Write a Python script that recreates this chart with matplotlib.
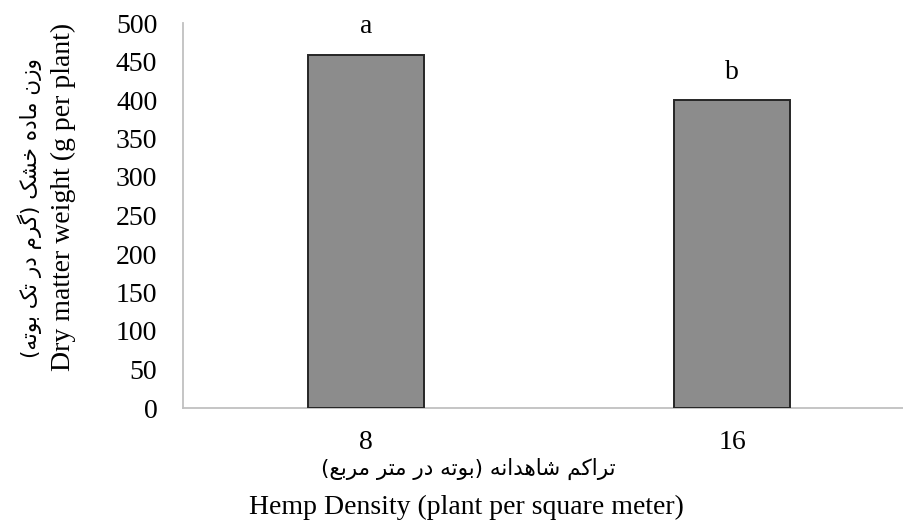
import matplotlib
matplotlib.use("Agg")
import matplotlib.pyplot as plt

# ---------------- data ----------------
categories = ["8", "16"]
dry_weight = [459, 400]
letters = ["a", "b"]
y_ticks = [0, 50, 100, 150, 200, 250, 300, 350, 400, 450, 500]

x_title_en = "Hemp Density (plant per square meter)"
x_title_fa = "تراکم شاهدانه (بوته در متر مربع)"
y_title_en = "Dry matter weight (g per plant)"
y_title_fa = "وزن ماده خشک (گرم در تک بوته)"

# ------------- simple Persian shaping (presentation forms, visual order) -------------
FORMS = {
    'ا': ('\uFE8D', '\uFE8E', None, None),
    'ب': ('\uFE8F', '\uFE90', '\uFE91', '\uFE92'),
    'ت': ('\uFE95', '\uFE96', '\uFE97', '\uFE98'),
    'خ': ('\uFEA5', '\uFEA6', '\uFEA7', '\uFEA8'),
    'د': ('\uFEA9', '\uFEAA', None, None),
    'ر': ('\uFEAD', '\uFEAE', None, None),
    'ز': ('\uFEAF', '\uFEB0', None, None),
    'ش': ('\uFEB5', '\uFEB6', '\uFEB7', '\uFEB8'),
    'ع': ('\uFEC9', '\uFECA', '\uFECB', '\uFECC'),
    'م': ('\uFEE1', '\uFEE2', '\uFEE3', '\uFEE4'),
    'ن': ('\uFEE5', '\uFEE6', '\uFEE7', '\uFEE8'),
    'ه': ('\uFEE9', '\uFEEA', '\uFEEB', '\uFEEC'),
    'و': ('\uFEED', '\uFEEE', None, None),
    'ک': ('\uFB8E', '\uFB8F', '\uFB90', '\uFB91'),
    'گ': ('\uFB92', '\uFB93', '\uFB94', '\uFB95'),
}


def shape_rtl(text):
    out = []
    n = len(text)
    for i, ch in enumerate(text):
        if ch not in FORMS:
            out.append(ch)
            continue
        f = FORMS[ch]
        prev = text[i - 1] if i > 0 else None
        nxt = text[i + 1] if i + 1 < n else None
        jp = prev in FORMS and FORMS[prev][2] is not None
        jn = nxt in FORMS and f[2] is not None
        if jp and jn:
            out.append(f[3])
        elif jp:
            out.append(f[1])
        elif jn:
            out.append(f[2])
        else:
            out.append(f[0])
    mirror = {'(': ')', ')': '('}
    return ''.join(mirror.get(c, c) for c in reversed(out))


W, H = 904, 529
fig = plt.figure(figsize=(W / 100, H / 100), dpi=100)
fig.patch.set_facecolor("white")

serif = "Liberation Serif"
fs = 20
fa_fs = 15.5

ax_left, ax_right = 183, 915
ax_bottom, ax_top = 408, 23
ax = fig.add_axes([ax_left / W, (H - ax_bottom) / H,
                   (ax_right - ax_left) / W, (ax_bottom - ax_top) / H])

xpos = list(range(len(categories)))
bars = ax.bar(xpos, dry_weight, width=0.317, color="#8c8c8c",
              edgecolor="#262626", linewidth=1.4, zorder=3)

for x, v, l in zip(xpos, dry_weight, letters):
    ax.annotate(l, (x, v), xytext=(0, 11), textcoords="offset points",
                ha="center", va="bottom", fontsize=fs, family=serif)

ax.set_xlim(-0.5, 1.5)
ax.set_ylim(0, 500)
ax.set_yticks(y_ticks)
ax.set_yticklabels([str(t) for t in y_ticks], family=serif, fontsize=fs)
ax.set_xticks(xpos)
ax.set_xticklabels(categories, family=serif, fontsize=fs)
ax.tick_params(axis="both", length=0)
ax.tick_params(axis="y", pad=18.5)
ax.tick_params(axis="x", pad=16)

for s in ["top", "right"]:
    ax.spines[s].set_visible(False)
ax.spines["left"].set_color("#c0c0c0")
ax.spines["bottom"].set_color("#c0c0c0")
ax.spines["left"].set_linewidth(1.3)
ax.spines["bottom"].set_linewidth(1.3)

# axis titles
fig.text(468 / W, 1 - 469 / H, shape_rtl(x_title_fa), ha="center", va="center",
         fontsize=fa_fs, family="DejaVu Sans")
fig.text(466 / W, 1 - 507 / H, x_title_en, ha="center", va="center",
         fontsize=fs, family=serif)
fig.text(30 / W, 1 - 208 / H, shape_rtl(y_title_fa), ha="center", va="center",
         rotation=90, fontsize=fa_fs, family="DejaVu Sans")
fig.text(63 / W, 1 - 197 / H, y_title_en, ha="center", va="center",
         rotation=90, fontsize=fs, family=serif)

fig.savefig("out.png", dpi=100, facecolor="white")
